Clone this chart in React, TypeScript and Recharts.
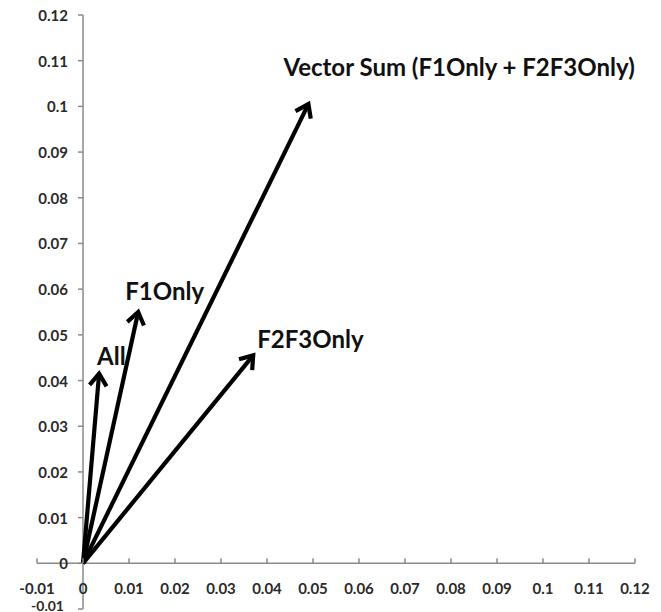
import React from 'react';
import { LineChart, Line, XAxis, YAxis, ReferenceLine } from 'recharts';

// vectors drawn from the origin
const vectorNames = ['All', 'F1Only', 'F2F3Only', 'Vector Sum (F1Only + F2F3Only)'];
const vectorX = [0.0035, 0.012, 0.037, 0.049];
const vectorY = [0.0415, 0.055, 0.0455, 0.1005];

const axisTicks = [-0.01, 0, 0.01, 0.02, 0.03, 0.04, 0.05, 0.06, 0.07, 0.08, 0.09, 0.1, 0.11, 0.12];
const tickLabels = ['-0.01', '0', '0.01', '0.02', '0.03', '0.04', '0.05', '0.06', '0.07', '0.08', '0.09', '0.1', '0.11', '0.12'];

const W = 661;
const H = 612;
const AXIS_SIZE = 1;
const margin = { top: 15, right: 26, bottom: 3 - AXIS_SIZE, left: 37 - AXIS_SIZE };
const plotW = W - 37 - 26;
const plotH = H - 15 - 3;
const dMin = axisTicks[0];
const dMax = axisTicks[axisTicks.length - 1];
const zeroDX = (plotW * (0 - dMin)) / (dMax - dMin);
const zeroDY = (plotH * (0 - dMin)) / (dMax - dMin);

const FONT = 'Lato, "Open Sans", sans-serif';
const AXIS_COLOR = '#8a8a8a';
const TICK_COLOR = '#2a2a2a';

// label offsets from each arrow tip (px)
const labelOffsets: Record<string, { dx: number; dy: number }> = {
    All: { dx: -2, dy: -18 },
    F1Only: { dx: -13, dy: -22 },
    F2F3Only: { dx: 4, dy: -17 },
    'Vector Sum (F1Only + F2F3Only)': { dx: -25, dy: -38 },
};

const labelFor = (v: number) => {
    const i = axisTicks.findIndex((t) => Math.abs(t - v) < 1e-9);
    return i >= 0 ? tickLabels[i] : String(v);
};

const renderXTick = (props: any) => {
    const { x, y, payload } = props;
    const zeroY = y - zeroDY;
    return (
        <g key={`xt-${payload.value}`}>
            <line x1={x} x2={x} y1={zeroY} y2={zeroY - 5} stroke={AXIS_COLOR} strokeWidth={1.5} />
            <text
                x={x}
                y={zeroY + 25}
                textAnchor="middle"
                dominantBaseline="central"
                fontFamily={FONT}
                fontWeight="bold"
                fontSize={15}
                fill={TICK_COLOR}
            >
                {labelFor(payload.value)}
            </text>
        </g>
    );
};

const renderYTick = (props: any) => {
    const { x, y, payload } = props;
    const zeroX = x + zeroDX;
    const neg = payload.value < 0;
    return (
        <g key={`yt-${payload.value}`}>
            <line x1={zeroX - 5} x2={zeroX} y1={y} y2={y} stroke={AXIS_COLOR} strokeWidth={1.5} />
            <text
                x={zeroX - (neg ? 19 : 15)}
                y={y + (neg ? -4 : 0)}
                textAnchor="end"
                dominantBaseline="central"
                fontFamily={FONT}
                fontWeight="bold"
                fontSize={neg ? 14 : 15}
                fill={TICK_COLOR}
            >
                {labelFor(payload.value)}
            </text>
        </g>
    );
};

const makeTipLabel = (name: string) => (props: any) => {
    const { x, y, index } = props;
    if (index !== 1) return null;
    const off = labelOffsets[name];
    return (
        <text
            key={`lbl-${name}`}
            x={x + off.dx}
            y={y + off.dy}
            dominantBaseline="central"
            fontFamily={FONT}
            fontWeight="bold"
            fontSize={24}
            fill="#111"
        >
            {name}
        </text>
    );
};

export default function App() {
    const series = vectorNames.map((name, i) => ({
        name,
        data: [
            { x: 0, y: 0 },
            { x: vectorX[i], y: vectorY[i] },
        ],
    }));

    return (
        <div style={{ position: 'absolute', left: 0, top: 0, background: '#fff' }}>
            <LineChart width={W} height={H} margin={margin}>
                <defs>
                    <marker
                        id="arrowHead"
                        viewBox="-15 -15 30 30"
                        markerWidth={30}
                        markerHeight={30}
                        refX={0}
                        refY={0}
                        orient="auto"
                        markerUnits="userSpaceOnUse"
                    >
                        <path d="M -12 -8.5 L 0 0 L -12 8.5" fill="none" stroke="#000" strokeWidth={4.2} strokeLinejoin="miter" />
                    </marker>
                </defs>
                <XAxis
                    type="number"
                    dataKey="x"
                    domain={[dMin, dMax]}
                    ticks={axisTicks}
                    interval={0}
                    height={AXIS_SIZE}
                    axisLine={false}
                    tickLine={false}
                    tickSize={0}
                    tickMargin={0}
                    tick={renderXTick}
                    allowDataOverflow
                />
                <YAxis
                    type="number"
                    dataKey="y"
                    domain={[dMin, dMax]}
                    ticks={axisTicks}
                    interval={0}
                    width={AXIS_SIZE}
                    axisLine={false}
                    tickLine={false}
                    tickSize={0}
                    tickMargin={0}
                    tick={renderYTick}
                    allowDataOverflow
                />
                <ReferenceLine x={0} stroke={AXIS_COLOR} strokeWidth={1.5} />
                <ReferenceLine y={0} stroke={AXIS_COLOR} strokeWidth={1.5} />
                {series.map((s) => (
                    <Line
                        key={s.name}
                        data={s.data}
                        dataKey="y"
                        name={s.name}
                        type="linear"
                        stroke="#000"
                        strokeWidth={4.2}
                        dot={false}
                        activeDot={false}
                        markerEnd="url(#arrowHead)"
                        label={makeTipLabel(s.name)}
                        isAnimationActive={false}
                    />
                ))}
            </LineChart>
        </div>
    );
}
